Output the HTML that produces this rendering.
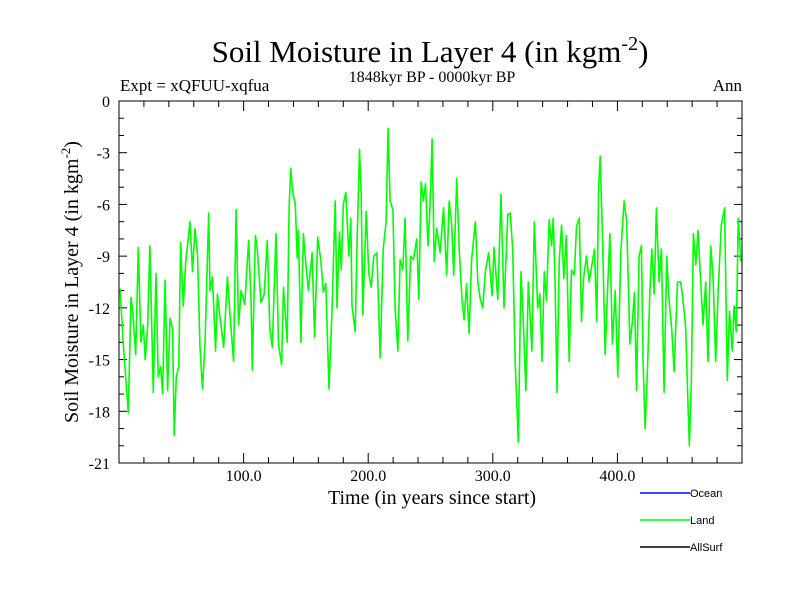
<!DOCTYPE html>
<html><head><meta charset="utf-8">
<style>
body{margin:0;background:#fff;}
svg{display:block;font-family:"Liberation Serif",serif;}
</style></head>
<body>
<svg id="chart" width="800" height="600" viewBox="0 0 800 600">
<rect width="800" height="600" fill="#fff"/>
<text x="430" y="62" font-size="31" text-anchor="middle">Soil Moisture in Layer 4 (in kgm<tspan dy="-12" font-size="20">-2</tspan><tspan dy="12">)</tspan></text>
<text x="120" y="91" font-size="17">Expt = xQFUU-xqfua</text>
<text x="432" y="82" font-size="16" text-anchor="middle">1848kyr BP - 0000kyr BP</text>
<text x="742" y="91" font-size="17" text-anchor="end">Ann</text>
<g id="axes"></g>
<g id="series"></g>
<rect x="119" y="101" width="623" height="362" fill="none" stroke="#000" stroke-width="1"/>
<text x="432" y="504" font-size="20" text-anchor="middle">Time (in years since start)</text>
<text transform="translate(78,282) rotate(-90)" font-size="20" text-anchor="middle">Soil Moisture in Layer 4 (in kgm<tspan dy="-8" font-size="13">-2</tspan><tspan dy="8">)</tspan></text>
<g font-family="Liberation Sans, sans-serif" font-size="11">
<g><line x1="640" y1="493" x2="690" y2="493" stroke="#0000ff" stroke-width="1.5"/><text x="690" y="497">Ocean</text></g>
<g><line x1="640" y1="520" x2="690" y2="520" stroke="#00ff00" stroke-width="1.5"/><text x="690" y="524">Land</text></g>
<g><line x1="640" y1="547" x2="690" y2="547" stroke="#000" stroke-width="1.5"/><text x="690" y="551">AllSurf</text></g>
</g>
</svg>
<script>
const years = [1,3,7.5,9.6,11,13.4,15.5,17.6,19.5,21,23,24.8,27.5,29.7,31.5,33.5,35,37,39,41,43,44.3,46,48,49.4,51.6,53.5,55,57,59,61,63,65,67,69,72,73,75,77.5,79,81.5,84,87,89.5,92,94,96,98,101,104,106,107,109.5,111,114,116.5,119,121,123,126,128,130.5,132,135,136.5,137.8,139.5,141.5,143,144,146,148,150,152,155,157,159.5,162,164,166,168.5,171,173.5,175,177,178.4,180,182,184.5,186,187,189.6,191,193,194.4,195.7,198.4,200.5,202.4,204.5,207,209.6,212,214.4,216,217.6,219.8,221.6,223.8,225.6,227.8,229.6,231.8,234,236.3,239,240.6,242.5,244.3,246,248,249.7,251.3,253,255,257.7,260.4,263,265,267,268.6,271,273,275.3,277,279,281,283,286,288,290,292,294,296.7,299.4,301,304,306.6,309,312,314,316,318,320.5,322.6,324.5,326.6,328.5,331.4,333.3,336,337.8,339.5,341.3,343,345.3,347.2,348.5,350,351.5,353.3,355.2,357,359,361.3,363.2,365.4,367.2,369.4,371.2,372.8,375.2,377.4,380,381.6,383.5,384.9,386.2,388,390.2,392,394,396,398.2,400.3,402.7,405.4,407.5,410,412,413.7,415.3,417.4,419.3,420.6,422.2,424,426,427.6,429.5,431.3,433.5,435.3,437.5,439.6,441.5,443.6,445.5,448.2,450.8,452.7,454.8,456.4,457.8,459.4,461,462.9,464.7,467,468.7,470.9,472.7,474.9,476.7,478.9,481,483.4,486,488.2,490,492.2,493.6,495.4,497,499];
const landValues = [-10.9,-13.6,-18.1,-11.4,-12.2,-14.7,-8.5,-14,-13,-15,-13,-8.4,-16.9,-10,-16,-15.4,-17,-10.4,-16.8,-12.6,-13.2,-19.4,-16,-15.4,-8.2,-11.9,-9.3,-8.4,-7,-9.9,-7.4,-8.9,-14.3,-16.7,-14.1,-6.5,-11,-10.2,-14.5,-11.2,-12.8,-14.3,-10.2,-12.8,-15.1,-6.3,-13,-11,-11.8,-8.1,-11.6,-15.6,-7.8,-8.6,-11.7,-11.2,-8.1,-13.2,-14.3,-7.7,-14.1,-15.3,-10.8,-14,-6.2,-3.9,-5.3,-6,-9.1,-7.5,-14,-7.7,-9.5,-11,-8.8,-13.7,-7.9,-9.3,-11.1,-10.6,-16.7,-12,-5.8,-12,-7.6,-9.8,-6,-5.3,-9,-6.8,-11.9,-13.4,-8.4,-2.8,-5.4,-12.4,-6.4,-10,-10.8,-9,-8.8,-14.9,-8.6,-7,-1.6,-5.8,-6.3,-12,-14.5,-9.2,-9.8,-6.8,-13.9,-9,-9.2,-8,-11.5,-4.7,-5.8,-4.8,-8.4,-6,-2.2,-9.3,-7.4,-8.8,-6.2,-10.1,-5.8,-7.2,-10.1,-4.5,-8.6,-11.5,-12.7,-10.6,-13.5,-9.2,-7,-10.5,-11.5,-12,-9.9,-8.8,-11.3,-8.5,-11.5,-5.4,-12,-6.6,-6.5,-8.6,-15.2,-19.8,-9.9,-12.8,-16.8,-10.5,-14.5,-7,-12,-11.2,-15.1,-9.9,-11.6,-6.9,-8.4,-6.8,-10.5,-16.9,-9.3,-7.2,-10.3,-7.8,-15.1,-9.8,-10.1,-7.3,-6.8,-12.8,-10.3,-9,-10.5,-9.3,-8.6,-12.8,-5,-3.2,-7.7,-14.7,-11.2,-7.7,-14.1,-11,-16,-8.8,-5.8,-7,-14.1,-12.8,-11.1,-16.8,-9,-8.4,-15.1,-19,-15.9,-11.2,-8.6,-11.2,-6.2,-10.5,-8.6,-16.9,-9,-11.6,-13.2,-15.7,-10.5,-10.5,-11.6,-13.2,-17.1,-20,-16,-7.7,-9.5,-7.5,-10.7,-13,-10.5,-15.1,-8.4,-10.1,-15.1,-10.8,-7.2,-6.2,-16.2,-12.2,-14.5,-11.9,-13.4,-6.8,-9.3];
const yTicks = [0,-3,-6,-9,-12,-15,-18,-21];
const xTickLabels = ["100.0","200.0","300.0","400.0"];
const xTickValues = [100,200,300,400];

const NS="http://www.w3.org/2000/svg";
const X0=119,X1=742,Y0=101,Y1=463;
const xScale=v=>X0+(v-0)/(500-0)*(X1-X0);
const yScale=v=>Y0+(0-v)/(0-(-21))*(Y1-Y0);
function mk(tag,attrs,parent){const e=document.createElementNS(NS,tag);for(const k in attrs)e.setAttribute(k,attrs[k]);parent.appendChild(e);return e;}
const axes=document.getElementById('axes');
// minor y ticks
for(let v=0;v>=-21;v--){
  const major=v%3===0, len=major?8:5;
  const y=yScale(v);
  const t1=mk('line',{x1:X0,y1:y,x2:X0+len,y2:y,stroke:'#000'},axes);
  
  
  const t2=mk('line',{x1:X1,y1:y,x2:X1-len,y2:y,stroke:'#000'},axes);
  
  
}
yTicks.forEach(v=>{
  const t=mk('text',{x:110,y:yScale(v)+6,'font-size':16,'text-anchor':'end'},axes);
  t.textContent=String(v);
  
  
});
for(let v=20;v<500;v+=20){
  const major=v%100===0,len=major?10:6;
  const x=xScale(v);
  const a=mk('line',{x1:x,y1:Y1,x2:x,y2:Y1-len,stroke:'#000'},axes);
  
  
  const b=mk('line',{x1:x,y1:Y0,x2:x,y2:Y0+len,stroke:'#000'},axes);
  
  
}
xTickValues.forEach((v,i)=>{
  const t=mk('text',{x:xScale(v),y:481,'font-size':16,'text-anchor':'middle'},axes);
  t.textContent=xTickLabels[i];
  
  
});
const series=document.getElementById('series');
const pts=years.map((y,i)=>xScale(y).toFixed(1)+','+yScale(landValues[i]).toFixed(1)).join(' ');
const line=mk('polyline',{points:pts,fill:'none',stroke:'#00ff00','stroke-width':1.6,'stroke-linejoin':'round'},series);


</script>
</body></html>
